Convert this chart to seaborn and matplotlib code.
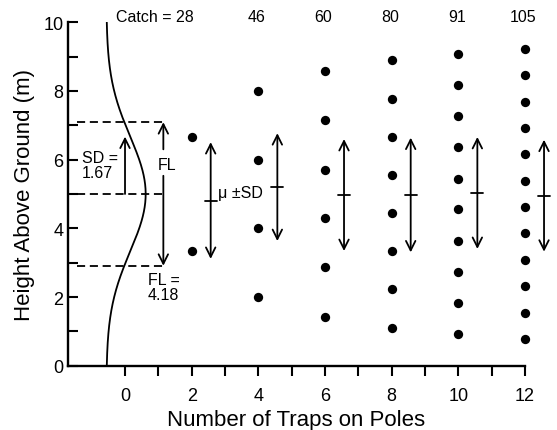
import numpy as np
import pandas as pd
import matplotlib.pyplot as plt
import seaborn as sns
from matplotlib.ticker import FixedLocator

# Data
traps = [2, 4, 6, 8, 10, 12]
catch = [28, 46, 60, 80, 91, 105]
trap_heights = [
    [3.33, 6.67],
    [2.0, 4.0, 6.0, 8.0],
    [1.43, 2.86, 4.29, 5.71, 7.14, 8.57],
    [1.11, 2.22, 3.33, 4.44, 5.56, 6.67, 7.78, 8.89],
    [0.91, 1.82, 2.73, 3.64, 4.55, 5.45, 6.36, 7.27, 8.18, 9.09],
    [0.77, 1.54, 2.31, 3.08, 3.85, 4.62, 5.38, 6.15, 6.92, 7.69, 8.46, 9.23],
]
catch_mean = [4.81, 5.2, 4.97, 4.97, 5.03, 4.95]
catch_sd = [1.7, 1.57, 1.63, 1.67, 1.63, 1.63]

# flight layer of the moths (normal distribution)
fl_mean = 5.0
fl_sd = 1.67
fl_width = 4.18

points = pd.DataFrame({
    "traps": [t for t, hs in zip(traps, trap_heights) for _ in hs],
    "height": [h for hs in trap_heights for h in hs],
})

sns.set_style("ticks")
plt.rcParams["font.family"] = ["Liberation Sans", "DejaVu Sans"]
plt.rcParams.update({
    "text.color": "black",
    "axes.labelcolor": "black",
    "axes.edgecolor": "black",
    "xtick.color": "black",
    "ytick.color": "black",
})

fig = plt.figure(figsize=(5.57, 4.31), dpi=100)
ax = fig.add_axes([0.1215, 0.1492, 0.8211, 0.7968])

# normal curve drawn sideways on the left
curve_y = np.linspace(0, 10, 300)
curve_x = -0.56 + 1.18 * np.exp(-(curve_y - fl_mean) ** 2 / (2 * fl_sd ** 2))
sns.lineplot(x=curve_x, y=curve_y, sort=False, estimator=None,
             color="black", lw=1.3, ax=ax)

fl_lo = fl_mean - fl_width / 2
fl_hi = fl_mean + fl_width / 2
for yy in [fl_lo, fl_mean, fl_hi]:
    ax.plot([-1.45, 1.15], [yy, yy], color="black", lw=1.3,
            linestyle=(0, (4.5, 2.6)))

arrow = dict(arrowstyle="->", lw=1.3, color="black", shrinkA=0, shrinkB=0,
             mutation_scale=17)
ax.annotate("", xy=(0, fl_mean + fl_sd), xytext=(0, fl_mean), arrowprops=arrow)
ax.annotate("", xy=(1.15, fl_hi), xytext=(1.15, 6.3), arrowprops=arrow)
ax.annotate("", xy=(1.15, fl_lo), xytext=(1.15, 5.53), arrowprops=arrow)
ax.text(1.26, 5.87, "FL", ha="center", va="center", fontsize=11.5)
ax.text(-1.3, 5.85, "SD =\n1.67", ha="left", va="center", fontsize=11.5,
        linespacing=1.0)
ax.text(0.68, 2.3, "FL =\n4.18", ha="left", va="center", fontsize=11.5,
        linespacing=1.0)

# trap catches
sns.scatterplot(data=points, x="traps", y="height", color="black", s=45,
                edgecolor="black", linewidth=0, clip_on=False, ax=ax)

# mean +/- SD arrows
both = dict(arrowstyle="<->", lw=1.3, color="black", shrinkA=0, shrinkB=0,
            mutation_scale=17)
for t, m, sd in zip(traps, catch_mean, catch_sd):
    xa = t + 0.57
    ax.annotate("", xy=(xa, m + sd), xytext=(xa, m - sd), arrowprops=both,
                annotation_clip=False)
    ax.plot([xa - 0.18, xa + 0.18], [m, m], color="black", lw=1.3,
            clip_on=False)
ax.text(2.8, 5.05, "\u03bc \u00b1SD", ha="left", va="center", fontsize=11.5)

# catch numbers along the top
for t, c in zip(traps, catch):
    if t == traps[0]:
        ax.text(t + 0.05, 10.18, f"Catch = {c}", ha="right", va="center",
                fontsize=11.5)
    else:
        ax.text(t - 0.05, 10.18, str(c), ha="center", va="center",
                fontsize=11.5)

ax.set_xlim(-1.72, 12)
ax.set_ylim(0, 10)
ax.set_xticks(range(0, 13, 2))
ax.set_yticks(range(0, 11, 2))
ax.xaxis.set_minor_locator(FixedLocator(range(1, 12, 2)))
ax.yaxis.set_minor_locator(FixedLocator(range(1, 10, 2)))
ax.tick_params(axis="x", which="both", direction="out", length=7, width=1.5,
               labelsize=13, pad=8)
ax.tick_params(axis="y", which="both", direction="in", length=7, width=1.5,
               labelsize=13, pad=3)
ax.set_xlabel("Number of Traps on Poles", fontsize=16, labelpad=4)
ax.set_ylabel("Height Above Ground (m)", fontsize=16, labelpad=6)
sns.despine(ax=ax)
ax.spines["left"].set_linewidth(1.7)
ax.spines["bottom"].set_linewidth(1.7)
ax.spines["bottom"].set_bounds(-1.72, 12)

fig.savefig("out.png", dpi=100)
